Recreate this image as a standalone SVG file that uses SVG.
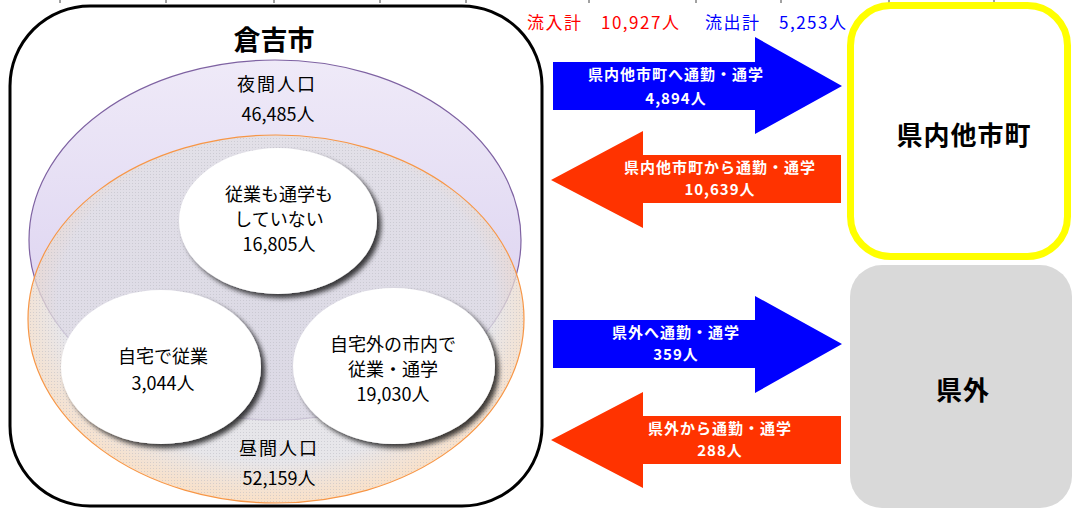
<svg xmlns="http://www.w3.org/2000/svg" width="1074" height="510" viewBox="0 0 1074 510">
<style>
text{font-family:"Noto Sans CJK JP","Noto Sans",sans-serif;text-anchor:middle;dominant-baseline:central}
.lbl{font-size:18px;fill:#000}
.big{font-size:26px;font-weight:bold;fill:#000}
.arr{font-size:15px;font-weight:bold;fill:#fff;letter-spacing:1px}
.tot{font-size:17px;text-anchor:start;letter-spacing:1.5px}
.tick{stroke:#444;stroke-width:1}
.bubble{fill:#fff;filter:url(#sh)}
</style>
<defs>
<linearGradient id="gPur" x1="0" y1="0" x2="0" y2="1">
<stop offset="0" stop-color="#efeaf8"/>
<stop offset="1" stop-color="#d6cbee"/>
</linearGradient>
<radialGradient id="gOra" cx="0.5" cy="0.45" r="0.55">
<stop offset="0" stop-color="#dcdce2" stop-opacity="0.78"/>
<stop offset="0.8" stop-color="#e0dfe4" stop-opacity="0.78"/>
<stop offset="1" stop-color="#f8d4b0" stop-opacity="0.7"/>
</radialGradient>
<pattern id="dots" width="3" height="3" patternUnits="userSpaceOnUse">
<rect x="0" y="0" width="1" height="1" fill="#b8b8c0" opacity="0.5"/>
</pattern>
<filter id="sh" x="-20%" y="-20%" width="140%" height="140%">
<feGaussianBlur in="SourceAlpha" stdDeviation="2.5"/>
<feOffset dx="4" dy="4" result="b"/>
<feComponentTransfer><feFuncA type="linear" slope="0.75"/></feComponentTransfer>
<feMerge><feMergeNode/><feMergeNode in="SourceGraphic"/></feMerge>
</filter>
</defs>
<g id="ticks">
<line class="tick" x1="60" y1="0" x2="60" y2="3"/>
<line class="tick" x1="166" y1="0" x2="166" y2="3"/>
<line class="tick" x1="274" y1="0" x2="274" y2="3"/>
<line class="tick" x1="380" y1="0" x2="380" y2="3"/>
<line class="tick" x1="466" y1="0" x2="466" y2="3"/>
<line class="tick" x1="589" y1="0" x2="589" y2="3"/>
<line class="tick" x1="696" y1="0" x2="696" y2="3"/>
<line class="tick" x1="781" y1="0" x2="781" y2="3"/>
<line class="tick" x1="889" y1="0" x2="889" y2="3"/>
<line class="tick" x1="994" y1="0" x2="994" y2="3"/>
</g>
<g id="kurayoshi">
<rect x="10" y="6" width="532" height="500" rx="80" fill="#fff" stroke="#000" stroke-width="3"/>
<text class="big" x="274" y="38" style="font-size:27px">倉吉市</text>
</g>
<g id="night">
<ellipse cx="275" cy="240" rx="246" ry="180" fill="url(#gPur)" stroke="#7e62a2" stroke-width="1.2"/>
<text class="lbl" x="277" y="83" letter-spacing="2">夜間人口</text>
<text class="lbl" x="278" y="113">46,485人</text>
</g>
<g id="day">
<ellipse cx="276" cy="319" rx="248" ry="184" fill="url(#gOra)" stroke="#f79646" stroke-width="1.2"/>
<ellipse cx="276" cy="319" rx="247" ry="183" fill="url(#dots)"/>
<text class="lbl" x="279" y="447" letter-spacing="2">昼間人口</text>
<text class="lbl" x="279" y="477">52,159人</text>
</g>
<g id="none">
<ellipse class="bubble" cx="278" cy="221" rx="99" ry="73"/>
<text class="lbl" x="279" y="193">従業も通学も</text>
<text class="lbl" x="279" y="218">していない</text>
<text class="lbl" x="279" y="243">16,805人</text>
</g>
<g id="home">
<ellipse class="bubble" cx="161" cy="367" rx="100" ry="77"/>
<text class="lbl" x="163" y="355">自宅で従業</text>
<text class="lbl" x="163" y="382">3,044人</text>
</g>
<g id="incity">
<ellipse class="bubble" cx="394" cy="366" rx="101" ry="78"/>
<text class="lbl" x="393" y="343">自宅外の市内で</text>
<text class="lbl" x="393" y="368">従業・通学</text>
<text class="lbl" x="393" y="393">19,030人</text>
</g>
<g id="totals">
<text class="tot" x="527" y="21" fill="#ff0000">流入計　10,927人</text>
<text class="tot" x="705" y="21" fill="#0000ff">流出計　5,253人</text>
</g>
<g id="pref">
<rect x="850.5" y="5.5" width="217" height="251" rx="40" fill="#fff" stroke="#ffff00" stroke-width="7"/>
<text class="big" x="964" y="133" letter-spacing="1">県内他市町</text>
</g>
<g id="outside">
<rect x="850" y="265" width="222" height="243" rx="32" fill="#d9d9d9"/>
<text class="big" x="963" y="388" letter-spacing="1">県外</text>
</g>
<g id="connectors">
<polygon points="553,62 755,62 755,37 842,86 755,134 755,110 553,110" fill="#0000ff"/>
<text class="arr" x="676" y="73">県内他市町へ通勤・通学</text>
<text class="arr" x="676" y="97">4,894人</text>
<polygon points="841,155 643,155 643,131 551,180 643,228 643,203 841,203" fill="#ff3300"/>
<text class="arr" x="720" y="166">県内他市町から通勤・通学</text>
<text class="arr" x="720" y="188">10,639人</text>
<polygon points="553,320 755,320 755,296 842,344 755,393 755,368 553,368" fill="#0000ff"/>
<text class="arr" x="676" y="331">県外へ通勤・通学</text>
<text class="arr" x="676" y="353">359人</text>
<polygon points="841,416 643,416 643,392 551,440 643,488 643,464 841,464" fill="#ff3300"/>
<text class="arr" x="720" y="427">県外から通勤・通学</text>
<text class="arr" x="720" y="449">288人</text>
</g>
</svg>
